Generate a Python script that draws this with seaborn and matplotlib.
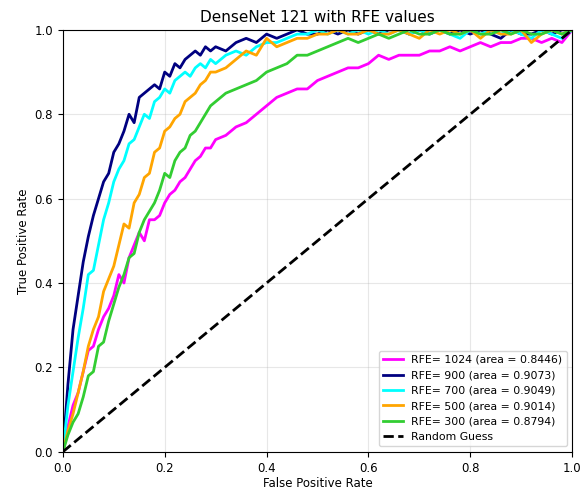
import numpy as np
import pandas as pd
import matplotlib
matplotlib.use("Agg")
import matplotlib.pyplot as plt
import seaborn as sns

fpr = [0.00, 0.01, 0.02, 0.03, 0.04, 0.05, 0.06, 0.07, 0.08, 0.09, 0.10,
       0.11, 0.12, 0.13, 0.14, 0.15, 0.16, 0.17, 0.18, 0.19, 0.20,
       0.21, 0.22, 0.23, 0.24, 0.25, 0.26, 0.27, 0.28, 0.29, 0.30,
       0.32, 0.34, 0.36, 0.38, 0.40, 0.42, 0.44, 0.46, 0.48, 0.50,
       0.52, 0.54, 0.56, 0.58, 0.60, 0.62, 0.64, 0.66, 0.68, 0.70,
       0.72, 0.74, 0.76, 0.78, 0.80, 0.82, 0.84, 0.86, 0.88, 0.90,
       0.92, 0.94, 0.96, 0.98, 1.00]

tpr_1024 = [0.00, 0.06, 0.11, 0.14, 0.19, 0.24, 0.25, 0.29, 0.32, 0.34, 0.37,
            0.42, 0.40, 0.46, 0.49, 0.52, 0.50, 0.55, 0.55, 0.56, 0.59,
            0.61, 0.62, 0.64, 0.65, 0.67, 0.69, 0.70, 0.72, 0.72, 0.74,
            0.75, 0.77, 0.78, 0.80, 0.82, 0.84, 0.85, 0.86, 0.86, 0.88,
            0.89, 0.90, 0.91, 0.91, 0.92, 0.94, 0.93, 0.94, 0.94, 0.94,
            0.95, 0.95, 0.96, 0.95, 0.96, 0.97, 0.96, 0.97, 0.97, 0.98,
            0.98, 0.97, 0.98, 0.97, 1.00]

tpr_900 = [0.00, 0.16, 0.29, 0.37, 0.45, 0.51, 0.56, 0.60, 0.64, 0.66, 0.71,
           0.73, 0.76, 0.80, 0.78, 0.84, 0.85, 0.86, 0.87, 0.86, 0.90,
           0.89, 0.92, 0.91, 0.93, 0.94, 0.95, 0.94, 0.96, 0.95, 0.96,
           0.95, 0.97, 0.98, 0.97, 0.99, 0.98, 0.99, 1.00, 0.99, 0.99,
           1.00, 0.99, 1.00, 0.99, 1.00, 0.99, 1.00, 1.00, 0.99, 1.00,
           0.99, 1.00, 0.99, 1.00, 0.99, 1.00, 0.99, 0.98, 1.00, 0.99,
           0.99, 1.00, 0.99, 1.00, 1.00]

tpr_700 = [0.00, 0.11, 0.19, 0.27, 0.34, 0.42, 0.43, 0.49, 0.55, 0.59, 0.64,
           0.67, 0.69, 0.73, 0.74, 0.77, 0.80, 0.79, 0.83, 0.84, 0.86,
           0.85, 0.88, 0.89, 0.90, 0.89, 0.91, 0.92, 0.91, 0.93, 0.92,
           0.94, 0.95, 0.94, 0.96, 0.97, 0.97, 0.98, 0.99, 0.99, 1.00,
           0.99, 1.00, 0.99, 1.00, 0.99, 1.00, 0.99, 1.00, 0.99, 1.00,
           0.99, 1.00, 0.99, 0.98, 1.00, 0.99, 1.00, 0.99, 1.00, 0.99,
           0.98, 1.00, 0.99, 0.98, 1.00]

tpr_500 = [0.00, 0.05, 0.09, 0.14, 0.19, 0.25, 0.29, 0.32, 0.38, 0.41, 0.44,
           0.49, 0.54, 0.53, 0.59, 0.61, 0.65, 0.66, 0.71, 0.72, 0.76,
           0.77, 0.79, 0.80, 0.83, 0.84, 0.85, 0.87, 0.88, 0.90, 0.90,
           0.91, 0.93, 0.95, 0.94, 0.98, 0.96, 0.97, 0.98, 0.98, 0.99,
           0.99, 1.00, 0.99, 0.99, 1.00, 0.99, 0.99, 1.00, 0.99, 0.98,
           1.00, 0.99, 1.00, 0.99, 1.00, 0.98, 1.00, 0.99, 0.99, 1.00,
           0.97, 0.99, 1.00, 0.99, 1.00]

tpr_300 = [0.00, 0.04, 0.07, 0.09, 0.13, 0.18, 0.19, 0.25, 0.26, 0.31, 0.35,
           0.39, 0.42, 0.46, 0.47, 0.52, 0.55, 0.57, 0.59, 0.62, 0.66,
           0.65, 0.69, 0.71, 0.72, 0.75, 0.76, 0.78, 0.80, 0.82, 0.83,
           0.85, 0.86, 0.87, 0.88, 0.90, 0.91, 0.92, 0.94, 0.94, 0.95,
           0.96, 0.97, 0.98, 0.97, 0.98, 0.99, 0.98, 0.99, 1.00, 0.99,
           0.99, 1.00, 0.99, 0.99, 1.00, 0.99, 0.99, 1.00, 0.99, 1.00,
           0.99, 0.99, 1.00, 0.99, 1.00]

labels = ["RFE= 1024 (area = 0.8446)", "RFE= 900 (area = 0.9073)",
          "RFE= 700 (area = 0.9049)", "RFE= 500 (area = 0.9014)",
          "RFE= 300 (area = 0.8794)"]
colors = ["magenta", "navy", "cyan", "orange", "limegreen"]
series = [tpr_1024, tpr_900, tpr_700, tpr_500, tpr_300]

rows = []
for lab, tpr in zip(labels, series):
    for x, y in zip(fpr, tpr):
        rows.append({"fpr": x, "tpr": y, "model": lab})
df = pd.DataFrame(rows)

fig, ax = plt.subplots(figsize=(5.82, 4.90), dpi=100)
sns.lineplot(data=df, x="fpr", y="tpr", hue="model", hue_order=labels,
             palette=dict(zip(labels, colors)), estimator=None, sort=False,
             linewidth=2, ax=ax)
ax.plot([0, 1], [0, 1], "k--", lw=2, label="Random Guess")

ax.set_xlim(0, 1)
ax.set_ylim(0, 1)
ax.set_xlabel("False Positive Rate", fontsize=8.5, labelpad=2)
ax.set_ylabel("True Positive Rate", fontsize=8.5, labelpad=3)
ax.set_title("DenseNet 121 with RFE values", fontsize=11)
ax.tick_params(labelsize=8.5)
ax.grid(True, alpha=0.3)
ax.legend(loc="lower right", fontsize=7.8, handlelength=1.8)
fig.subplots_adjust(left=0.108, right=0.983, top=0.939, bottom=0.078)
fig.savefig("out.png", dpi=100)
